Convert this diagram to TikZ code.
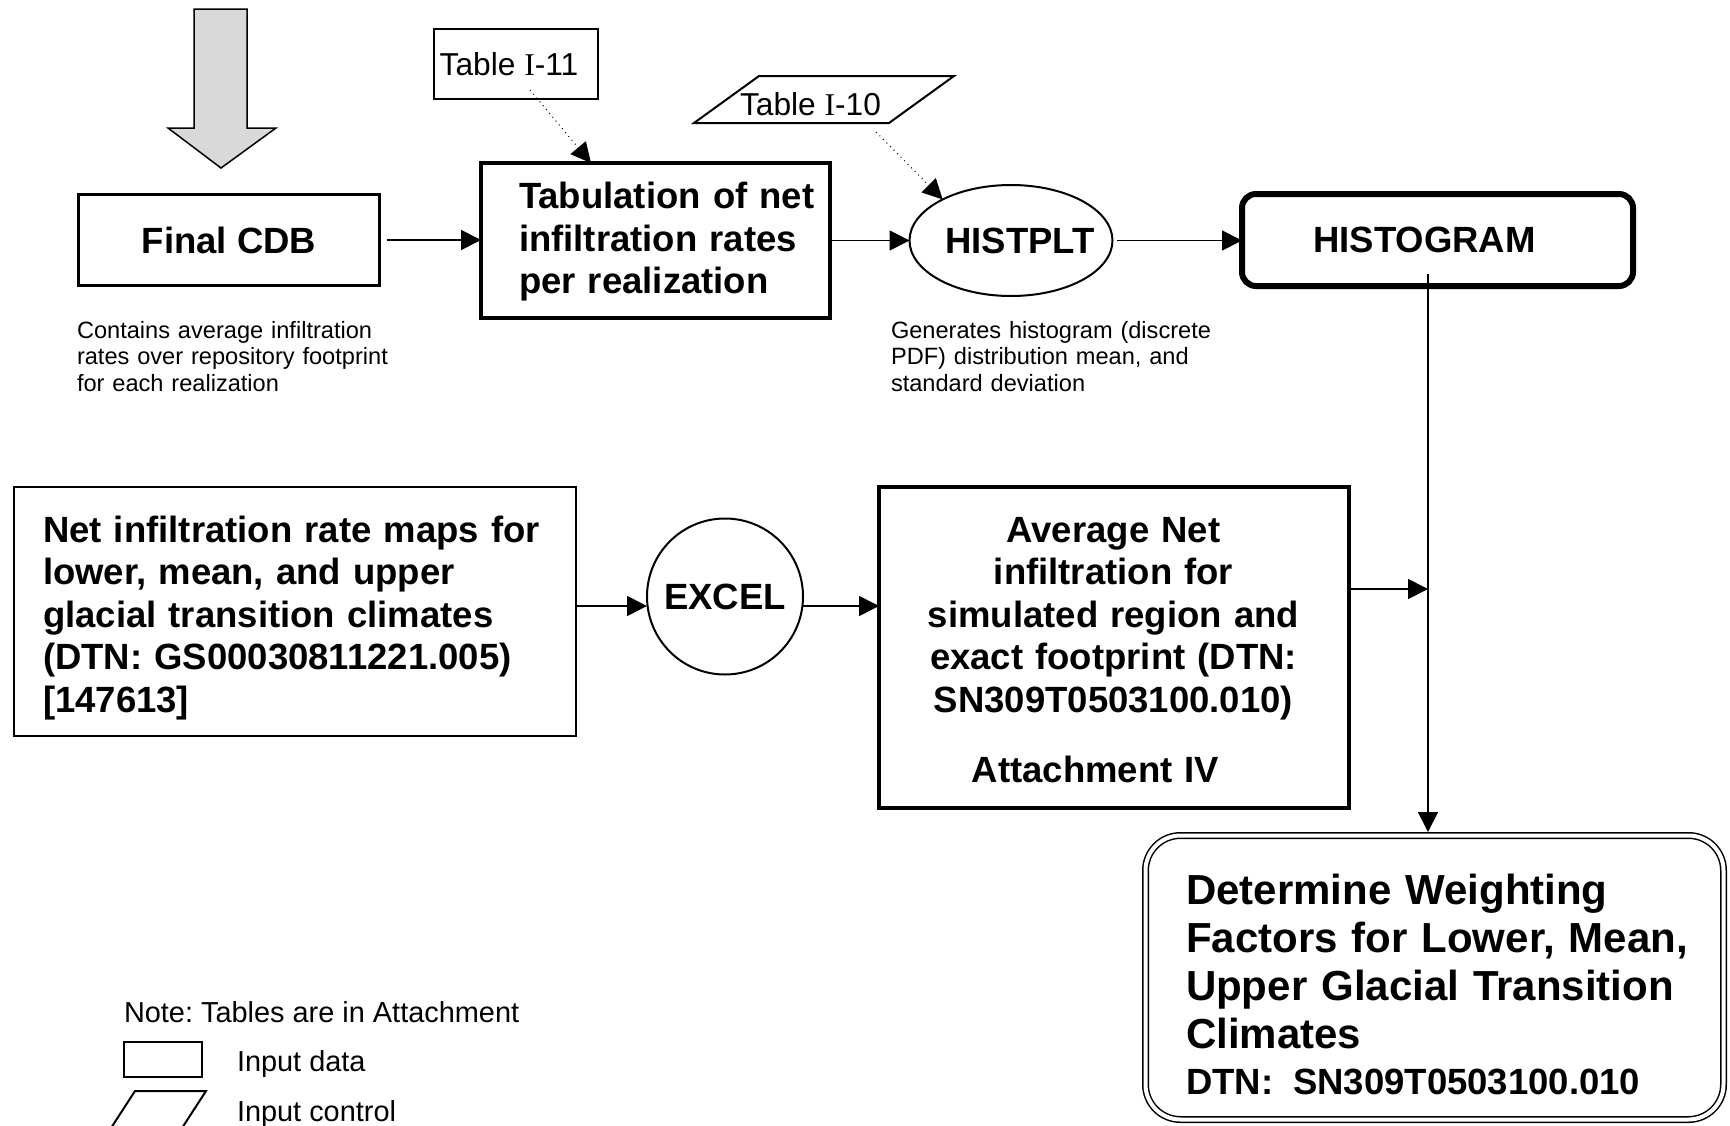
\documentclass[tikz,border=0pt]{standalone}
\usepackage{fontspec}
\setmainfont{Liberation Sans}
\newfontfamily\serifI{Liberation Serif}
\usetikzlibrary{arrows.meta,shapes.geometric}
\newcommand\myBig{\fontsize{18.25pt}{21.25pt}\selectfont\bfseries}
\newcommand\myHuge{\fontsize{21pt}{24pt}\selectfont\bfseries}
\newcommand\myCap{\fontsize{11.8pt}{13.25pt}\selectfont}
\newcommand\myNote{\fontsize{14.45pt}{17pt}\selectfont}
\newcommand\myTab{\fontsize{15.85pt}{18pt}\selectfont}
\frenchspacing
\begin{document}
\begin{tikzpicture}[x=0.5pt,y=-0.5pt,
  conn/.style={line width=0.85pt,-{Triangle[length=10pt,width=10pt]}},
  dconn/.style={line width=0.5pt,dotted,-{Triangle[length=10pt,width=10pt]}},
  box/.style={draw,inner sep=0pt,outer sep=0pt},
  txt/.style={inner sep=0pt,outer sep=0pt}]
\useasboundingbox (0,0) rectangle (1730,1125);
\clip (0,0) rectangle (1730,1125);

% big gray arrow
\draw[line width=0.75pt,fill=black!15] (194,9) -- (247,9) -- (247,128) -- (276,128) -- (221,168) -- (168,128) -- (194,128) -- cycle;

% top row
\node[box,line width=1.5pt,minimum width=150.5pt,minimum height=45.5pt,font=\myBig] (cdb) at (229,240) {Final CDB};
\node[box,line width=2pt,minimum width=174.5pt,minimum height=77.5pt] (tab) at (655.5,240.5) {};
\node[txt,anchor=base west,text width=160pt,align=left,font=\myBig] (tabtxt) at (519,208.5) {Tabulation of net\\infiltration rates\\per realization};
\node[box,line width=1pt,minimum width=82pt,minimum height=35pt,font=\myTab] (t11) at (516,64) {Table {\serifI I}-11\rule{7pt}{0pt}};
\draw[line width=1pt] (694,123) -- (889,123) -- (954,76) -- (759,76) -- cycle;
\node[txt,anchor=base west,font=\myTab] (t10) at (740,115) {Table {\serifI I}-10};
\node[draw,ellipse,line width=1pt,inner sep=0pt,outer sep=0pt,minimum width=101.5pt,minimum height=55.5pt] (histplt) at (1011,240.5) {};
\node[txt,anchor=base,font=\myBig] (histplttxt) at (1020,253) {HISTPLT};
\node[box,line width=3pt,rounded corners=7pt,minimum width=195.5pt,minimum height=46pt,font=\myBig] (histogram) at (1437.5,240) {HISTOGRAM\rule{13pt}{0pt}};

% captions
\node[txt,anchor=base west,text width=175pt,align=left,font=\myCap] (cap1) at (77,338) {Contains average infiltration\\rates over repository footprint\\for each realization};
\node[txt,anchor=base west,text width=175pt,align=left,font=\myCap] (cap2) at (891,338) {Generates histogram (discrete\\PDF) distribution mean, and\\standard deviation};

% middle row
\node[box,line width=1pt,minimum width=281pt,minimum height=124.5pt] (net) at (295,611.5) {};
\node[txt,anchor=base west,text width=270pt,align=left,font=\myBig] (nettxt) at (43,542) {Net infiltration rate maps for\\lower, mean, and upper\\glacial transition climates\\(DTN: GS00030811221.005)\\{[}147613{]}};
\node[draw,circle,line width=1pt,inner sep=0pt,outer sep=0pt,minimum size=78pt,font=\myBig] (excel) at (725,596.5) {EXCEL};
\node[box,line width=2pt,minimum width=235pt,minimum height=160.5pt] (avg) at (1114,647.5) {};
\node[txt,anchor=base,text width=230pt,align=center,font=\myBig] (avgtxt) at (1113.5,542) {Average Net\\infiltration for\\simulated region and\\exact footprint (DTN:\\SN309T0503100.010)\\[13.75pt]Attachment IV\rule{18pt}{0pt}};

% result box
\node[draw,double,double distance=2pt,line width=0.75pt,rounded corners=17.5pt,inner sep=0pt,outer sep=0pt,minimum width=289pt,minimum height=142pt] (det) at (1434.5,977.5) {};
\node[txt,anchor=base west,text width=275pt,align=left,font=\myHuge] (dettxt) at (1186,904) {Determine Weighting\\Factors for Lower, Mean,\\Upper Glacial Transition\\Climates\\[-1pt]{\myBig DTN:\hspace{10pt}SN309T0503100.010}};

% legend
\node[txt,anchor=base west,font=\myNote] (note) at (124,1022) {Note: Tables are in Attachment};
\node[box,line width=1pt,minimum width=39pt,minimum height=17.5pt] (legbox) at (163,1059.5) {};
\node[txt,anchor=base west,font=\myNote] (legdata) at (237,1071) {Input data};
\draw[line width=1pt] (135,1091) -- (206,1091) -- (171,1145) -- (100,1145) -- cycle;
\node[txt,anchor=base west,font=\myNote] (legctl) at (237,1121) {Input control};

% connectors
\draw[conn,shorten <=3.5pt] (cdb.east) -- (cdb.east -| tab.west);
\draw[conn] (tab.east) -- (tab.east -| histplt.west);
\draw[conn,shorten <=2pt] (histplt.east) -- (histplt.east -| histogram.west);
\coordinate (t11s) at (530,90);
\draw[dconn] (t11s) -- (tab);
\coordinate (t10s) at (876,132);
\draw[dconn] (t10s) -- (histplt.149);
\coordinate (nety) at ([yshift=2.75pt]net.east);
\draw[conn] (nety) -- (nety -| excel.west);
\draw[conn] (nety -| excel.east) -- (nety -| avg.west);
\coordinate (hs) at (1428,274);
\draw[conn,shorten >=1.75pt] (hs) -- (hs |- det.north);
\coordinate (ao) at ([yshift=29.25pt]avg.east);
\draw[conn] (ao) -- (ao -| hs);
\end{tikzpicture}
\end{document}
